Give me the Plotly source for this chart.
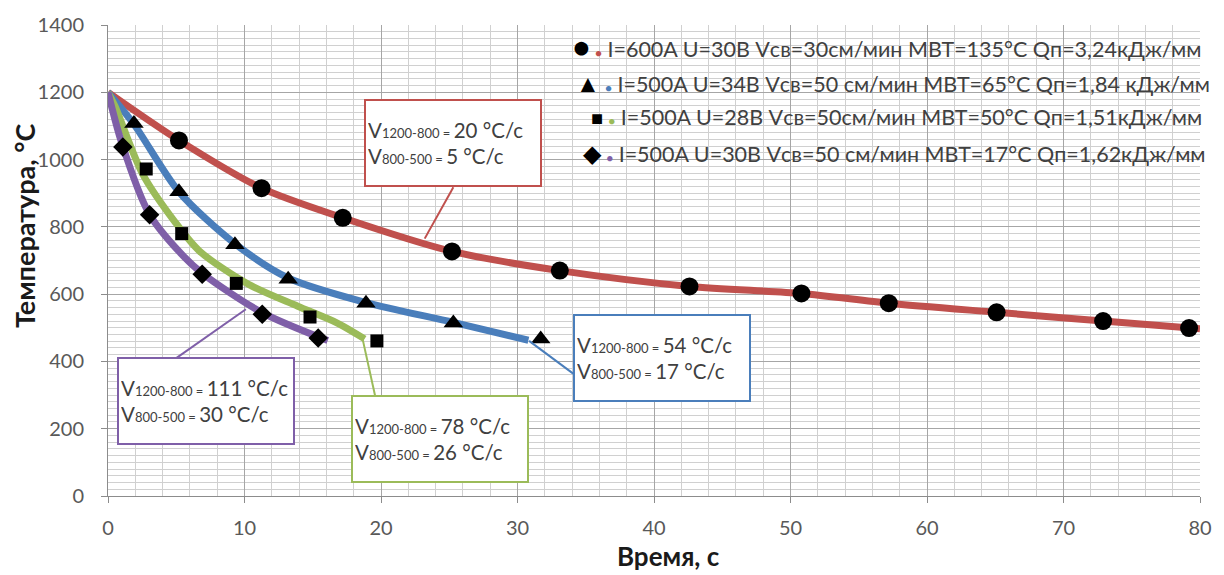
import plotly.graph_objects as go

# ---------------- data ----------------
red_line_t = [0, 5.2, 11.25, 17.2, 25.2, 33.1, 42.6, 50.8, 57.2, 65.1, 72.9, 80.0]
red_line_T = [1200, 1057, 915, 827, 727, 670, 623, 602, 573, 546, 520, 497]
red_mark_t = [5.2, 11.25, 17.2, 25.2, 33.1, 42.6, 50.8, 57.2, 65.1, 72.9, 79.2]
red_mark_T = [1057, 915, 827, 727, 670, 623, 602, 573, 546, 520, 499]

blue_line_t = [0, 1.9, 5.2, 9.3, 13.2, 18.9, 25.3, 30.8]
blue_line_T = [1200, 1105, 904, 750, 648, 575, 516, 463]
blue_mark_t = [1.9, 5.2, 9.3, 13.2, 18.9, 25.3, 31.7]
blue_mark_T = [1107, 904, 747, 644, 573, 514, 467]

green_line_t = [0, 0.5, 2.5, 4.9, 6.7, 10.3, 13.9, 16.8, 18.8]
green_line_T = [1200, 1160, 960, 815, 728, 629, 564, 514, 467]
green_mark_t = [2.8, 5.4, 9.4, 14.8, 19.7]
green_mark_T = [972, 780, 632, 532, 461]

purple_line_t = [0, 1.0, 3.0, 5.2, 6.9, 11.3, 16.1]
purple_line_T = [1200, 1050, 840, 727, 662, 545, 462]
purple_mark_t = [1.09, 3.05, 6.9, 11.3, 15.4]
purple_mark_T = [1037, 836, 659, 540, 470]

labels = [
    "I=600A U=30В Vсв=30см/мин МВТ=135°C Qп=3,24кДж/мм",
    "I=500A U=34В Vсв=50 см/мин МВТ=65°C Qп=1,84 кДж/мм",
    "I=500A U=28В Vсв=50см/мин МВТ=50°C Qп=1,51кДж/мм",
    "I=500A U=30В Vсв=50 см/мин МВТ=17°C Qп=1,62кДж/мм",
]
rates_1200_800 = ["20", "54", "78", "111"]
rates_800_500 = ["5", "17", "26", "30"]

colors = ["#c0504d", "#4a7ebb", "#9bbb59", "#7f5fa8"]
symbols = ["circle", "triangle-up", "square", "diamond"]
msizes = [18, 17, 13, 15]
glyphs = ["●", "▲", "■", "◆"]

FONT = "Lato"
TXT = "#404040"

fig = go.Figure()
lines = [(red_line_t, red_line_T), (blue_line_t, blue_line_T),
         (green_line_t, green_line_T), (purple_line_t, purple_line_T)]
marks = [(red_mark_t, red_mark_T), (blue_mark_t, blue_mark_T),
         (green_mark_t, green_mark_T), (purple_mark_t, purple_mark_T)]

for i, (lx, ly) in enumerate(lines):
    fig.add_trace(go.Scatter(x=lx, y=ly, mode="lines", line=dict(color=colors[i], width=7, shape="spline", smoothing=0.8),
                             showlegend=False, hoverinfo="skip"))
for i, (mx, my) in enumerate(marks):
    fig.add_trace(go.Scatter(x=mx, y=my, mode="markers",
                             marker=dict(symbol=symbols[i], size=msizes[i], color="black"),
                             showlegend=False, name=labels[i]))

# ---------------- legend (manual, right-aligned) ----------------
leg_y = [0.956, 0.878, 0.804, 0.730]
leg_xr = [1.0027, 1.011, 1.0036, 1.0073]
gsize = [28, 24, 20, 24]
for i in range(4):
    txt = (f'<span style="color:#000000;font-size:{gsize[i]}px">{glyphs[i]}</span> '
           f'<span style="color:{colors[i]};font-size:11px">●</span> {labels[i]}')
    fig.add_annotation(x=leg_xr[i], y=leg_y[i], xref="paper", yref="paper", xanchor="right", yanchor="middle",
                       text=txt, showarrow=False, font=dict(family=FONT, size=21.5, color=TXT))

# ---------------- rate boxes ----------------
box_pos = [(25.3, 1048), (40.55, 410), (24.3, 170), (7.2, 283)]
conn = [((25.3, 918), (23.2, 765)), ((34.5, 351), (30.85, 461)),
        ((19.6, 292), (18.65, 467)), ((5.0, 410), (10.1, 555))]
for i in range(4):
    (x0, y0), (x1, y1) = conn[i]
    fig.add_shape(type="line", x0=x0, y0=y0, x1=x1, y1=y1, xref="x", yref="y",
                  line=dict(color=colors[i], width=2), layer="above")
for i in range(4):
    t = (f'V<span style="font-size:13px">1200-800 = </span>{rates_1200_800[i]} °C/c<br>'
         f'V<span style="font-size:13px">800-500 = </span>{rates_800_500[i]} °C/c')
    fig.add_annotation(x=box_pos[i][0], y=box_pos[i][1], xref="x", yref="y", text=t, showarrow=False,
                       align="left", width=170, height=80, borderpad=2, borderwidth=2,
                       bordercolor=colors[i], bgcolor="white",
                       font=dict(family=FONT, size=20.5, color=TXT))

# ---------------- axis titles ----------------
fig.add_annotation(x=-0.077, y=0.575, xref="paper", yref="paper", xanchor="center", yanchor="middle",
                   text="<b>Температура, °С</b>", textangle=-90, showarrow=False,
                   font=dict(family=FONT, size=27, color="#1a1a1a"))
fig.add_annotation(x=0.513, y=-0.128, xref="paper", yref="paper", xanchor="center", yanchor="middle",
                   text="<b>Время, с</b>", showarrow=False, font=dict(family=FONT, size=26, color="#1a1a1a"))

fig.update_xaxes(range=[0, 80], dtick=10, tick0=0, showgrid=True, gridcolor="#a6a6a6", gridwidth=1,
                 minor=dict(dtick=2, showgrid=True, gridcolor="#d0d0d0", gridwidth=1),
                 showline=True, linecolor="#8c8c8c", linewidth=1, ticks="outside", ticklen=6,
                 tickcolor="#8c8c8c", tickfont=dict(family=FONT, size=20, color="#595959"),
                 ticklabelstandoff=8, zeroline=False)
fig.update_yaxes(range=[0, 1400], dtick=200, tick0=0, showgrid=True, gridcolor="#a6a6a6", gridwidth=1,
                 minor=dict(dtick=20, showgrid=True, gridcolor="#d0d0d0", gridwidth=1),
                 showline=True, linecolor="#8c8c8c", linewidth=1, ticks="outside", ticklen=6,
                 tickcolor="#8c8c8c", tickfont=dict(family=FONT, size=20, color="#595959"),
                 ticklabelstandoff=13, zeroline=False)

fig.update_layout(width=1224, height=575, margin=dict(l=108, r=14, t=22, b=79),
                  plot_bgcolor="white", paper_bgcolor="white", showlegend=False)

fig.write_html("out.html")
